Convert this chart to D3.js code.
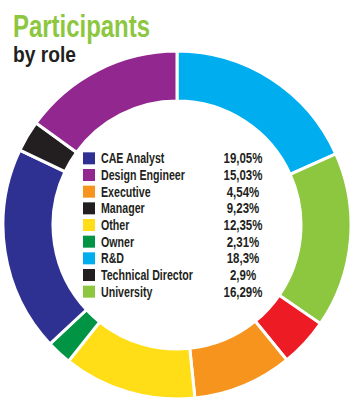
<!DOCTYPE html>
<html><head><meta charset="utf-8">
<script src="https://cdn.jsdelivr.net/npm/d3@7"></script>
<style>html,body{margin:0;padding:0;background:#fff;}svg{display:block;}</style>
</head><body>
<svg id="chart" width="355" height="417"></svg>
<script>
// Legend (as printed)
const categories = ["CAE Analyst","Design Engineer","Executive","Manager","Other","Owner","R&D","Technical Director","University"];
const valueLabels = ["19,05%","15,03%","4,54%","9,23%","12,35%","2,31%","18,3%","2,9%","16,29%"];
const legendColors = ["#2e3192","#92278f","#f7941d","#231f20","#ffdd17","#009444","#00aeef","#231f20","#8dc63f"];
// Ring (clockwise from top, as drawn)
const ringValues = [18.3, 16.29, 4.54, 9.23, 12.35, 2.31, 19.05, 2.9, 15.03];
const ringColors = ["#00aeef","#8dc63f","#ed1c24","#f7941d","#ffdd17","#009444","#2e3192","#231f20","#92278f"];

const svg = d3.select("#chart");
const font = "'Liberation Sans','Arial',sans-serif";

const cx = 177, cy = 225, rOut = 174, rIn = 124;
const pie = d3.pie().sort(null).value(d => d);
const arc = d3.arc().innerRadius(rIn).outerRadius(rOut);
const g = svg.append("g").attr("transform", `translate(${cx},${cy})`);
g.selectAll("path").data(pie(ringValues)).join("path")
  .attr("d", arc)
  .attr("fill", (d,i) => ringColors[i])
  .attr("stroke", "#fff").attr("stroke-width", 3);

// Title (condensed look via horizontal scaling)
svg.append("text").attr("x", 13).attr("y", 37)
  .attr("font-family", font).attr("font-weight", "bold").attr("font-size", 31)
  .attr("textLength", 137).attr("lengthAdjust", "spacingAndGlyphs")
  .attr("fill", "#8dc63f").text("Participants");
svg.append("text").attr("x", 13).attr("y", 62)
  .attr("font-family", font).attr("font-weight", "bold").attr("font-size", 22)
  .attr("textLength", 63).attr("lengthAdjust", "spacingAndGlyphs")
  .attr("fill", "#231f20").text("by role");

// Legend
const y = d3.scaleBand().domain(categories).range([150, 300]);
const leg = svg.append("g");
const rows = leg.selectAll("g").data(categories).join("g")
  .attr("transform", d => `translate(0,${y(d) + y.bandwidth()/2})`);
rows.append("rect").attr("x", 83).attr("y", -6).attr("width", 12).attr("height", 12)
  .attr("fill", (d,i) => legendColors[i]);
const sName = 0.76, sVal = 0.82;
rows.append("text").attr("transform", `translate(101,0) scale(${sName},1)`)
  .attr("dy", "0.36em")
  .attr("font-family", font).attr("font-weight", "bold").attr("font-size", 14)
  .attr("fill", "#231f20").text(d => d);
rows.append("text").attr("transform", `translate(243,0) scale(${sVal},1)`)
  .attr("dy", "0.36em").attr("text-anchor", "middle")
  .attr("font-family", font).attr("font-weight", "bold").attr("font-size", 14)
  .attr("fill", "#231f20").text((d,i) => valueLabels[i]);
</script>
</body></html>
